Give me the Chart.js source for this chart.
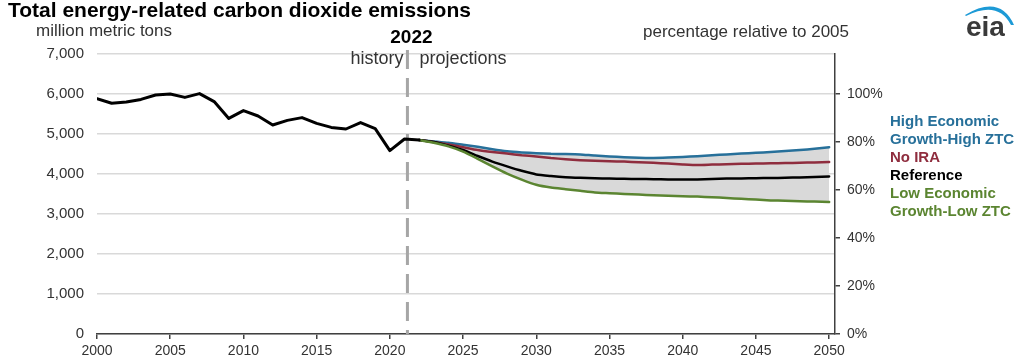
<!DOCTYPE html>
<html>
<head>
<meta charset="utf-8">
<script src="https://cdn.jsdelivr.net/npm/chart.js@4"></script>
<style>
  html, body { margin: 0; padding: 0; background: #fff; }
  #wrap { width: 1024px; height: 360px; position: relative; }
</style>
</head>
<body>
<div id="wrap"><canvas id="chart" width="1024" height="360"></canvas></div>
<script>
// history 2000-2022, million metric tons
const histYears = [2000,2001,2002,2003,2004,2005,2006,2007,2008,2009,2010,2011,2012,2013,2014,2015,2016,2017,2018,2019,2020,2021,2022];
const histValues = [5880,5770,5800,5865,5975,6000,5915,6010,5810,5390,5585,5450,5225,5340,5410,5265,5165,5125,5285,5135,4585,4875,4850];

// projections 2022-2050
const projYears = [2022,2023,2024,2025,2026,2027,2028,2029,2030,2031,2032,2033,2034,2035,2036,2037,2038,2039,2040,2041,2042,2043,2044,2045,2046,2047,2048,2049,2050];
const highValues = [4850,4815,4780,4730,4680,4620,4570,4540,4520,4505,4500,4490,4460,4440,4420,4405,4400,4410,4425,4445,4470,4490,4510,4530,4550,4575,4600,4630,4670];
const noIraValues = [4850,4800,4740,4670,4600,4550,4510,4470,4440,4400,4370,4345,4330,4320,4310,4295,4280,4260,4240,4225,4235,4245,4255,4262,4268,4275,4280,4290,4300];
const refValues = [4850,4800,4710,4600,4450,4310,4190,4080,3990,3950,3920,3905,3895,3885,3880,3875,3870,3865,3865,3865,3875,3885,3890,3895,3900,3905,3915,3925,3940];
const lowValues = [4850,4780,4690,4560,4380,4190,4010,3860,3730,3660,3620,3580,3540,3520,3500,3485,3470,3455,3445,3435,3420,3400,3380,3360,3340,3330,3320,3310,3300];

const xTicks = [2000,2005,2010,2015,2020,2025,2030,2035,2040,2045,2050];
const yTicks = [0,1000,2000,3000,4000,5000,6000,7000];
const pctTicks = [0,20,40,60,80,100];
const base2005 = 6000;
const dividerYear = 2021.2;

const legendLabels = [
  ['High Economic', '#27709a'],
  ['Growth-High ZTC', '#27709a'],
  ['No IRA', '#8f2d3e'],
  ['Reference', '#000000'],
  ['Low Economic', '#5b8531'],
  ['Growth-Low ZTC', '#5b8531']
];

const pts = (xs, ys) => xs.map((x, i) => ({ x: x, y: ys[i] }));
const FONT = "'Liberation Sans', Arial, sans-serif";

// extra text, divider and logo
const decor = {
  id: 'decor',
  beforeDatasetsDraw(chart) {
    const { ctx, scales } = chart;
    const x = scales.x.getPixelForValue(dividerYear);
    ctx.save();
    ctx.strokeStyle = '#a6a6a6';
    ctx.lineWidth = 3;
    ctx.setLineDash([19, 9]);
    ctx.beginPath();
    ctx.moveTo(x, 50);
    ctx.lineTo(x, scales.y.bottom);
    ctx.stroke();
    ctx.restore();
  },
  afterDraw(chart) {
    const { ctx, scales } = chart;
    const x = scales.x.getPixelForValue(dividerYear);
    ctx.save();
    ctx.textBaseline = 'alphabetic';
    ctx.fillStyle = '#000';
    ctx.font = 'bold 21px ' + FONT;
    ctx.textAlign = 'left';
    ctx.fillText('Total energy-related carbon dioxide emissions', 8, 17);
    ctx.fillStyle = '#333';
    ctx.font = '17px ' + FONT;
    ctx.fillText('million metric tons', 36, 36);
    ctx.fillText('percentage relative to 2005', 643, 37);
    ctx.textAlign = 'center';
    ctx.fillStyle = '#000';
    ctx.font = 'bold 19px ' + FONT;
    ctx.fillText('2022', x + 4, 43);
    ctx.fillStyle = '#333';
    ctx.font = '18px ' + FONT;
    ctx.textAlign = 'right';
    ctx.fillText('history', x - 4, 64);
    ctx.textAlign = 'left';
    ctx.fillText('projections', x + 12, 64);

    // legend labels
    ctx.font = 'bold 15px ' + FONT;
    legendLabels.forEach((l, i) => {
      ctx.fillStyle = l[1];
      ctx.textBaseline = 'middle';
      ctx.fillText(l[0], 890, 122 + i * 18);
    });

    // logo
    ctx.textBaseline = 'alphabetic';
    ctx.fillStyle = '#3a3a3a';
    ctx.font = 'bold 28px ' + FONT;
    ctx.fillText('eia', 966, 36);
    ctx.fillStyle = '#1d9ad6';
    ctx.beginPath();
    ctx.moveTo(965, 15);
    ctx.quadraticCurveTo(1000, -6, 1014, 25);
    ctx.lineTo(1011, 25);
    ctx.quadraticCurveTo(998, 0, 966, 16);
    ctx.closePath();
    ctx.fill();
    ctx.restore();
  }
};

new Chart(document.getElementById('chart'), {
  type: 'line',
  data: {
    datasets: [
      { label: 'High Economic Growth-High ZTC', data: pts(projYears, highValues), borderColor: '#27709a', borderWidth: 2.5, fill: 3, backgroundColor: '#d9d9d9', order: 4 },
      { label: 'No IRA', data: pts(projYears, noIraValues), borderColor: '#8f2d3e', borderWidth: 2.5, fill: false, order: 3 },
      { label: 'Reference', data: pts(projYears, refValues), borderColor: '#000000', borderWidth: 2.5, fill: false, order: 2 },
      { label: 'Low Economic Growth-Low ZTC', data: pts(projYears, lowValues), borderColor: '#5b8531', borderWidth: 2.5, fill: false, order: 1 },
      { label: 'History', data: pts(histYears, histValues), borderColor: '#000000', borderWidth: 3, fill: false, tension: 0, order: 0 }
    ]
  },
  options: {
    responsive: false,
    animation: false,
    layout: { padding: { top: 54, left: 0, right: 0, bottom: 0 } },
    elements: { point: { radius: 0 }, line: { tension: 0.2, borderJoinStyle: 'round', borderCapStyle: 'round' } },
    plugins: { legend: { display: false }, tooltip: { enabled: false } },
    scales: {
      x: {
        type: 'linear', min: 2000, max: 2050.4,
        afterBuildTicks: s => { s.ticks = xTicks.map(v => ({ value: v })); },
        afterFit: s => { s.height = 26; },
        border: { display: true, color: '#404040', width: 1.5 },
        grid: { drawOnChartArea: false, drawTicks: true, tickLength: 5, color: '#404040', lineWidth: 1.5 },
        ticks: { color: '#333', font: { family: FONT, size: 14 }, padding: 4, maxRotation: 0, callback: v => String(v) }
      },
      y: {
        position: 'left', min: 0, max: 7000,
        afterBuildTicks: s => { s.ticks = yTicks.map(v => ({ value: v })); },
        afterFit: s => { s.width = 97; },
        border: { display: false },
        grid: { color: '#d9d9d9', lineWidth: 1.5, drawTicks: false },
        ticks: { color: '#333', font: { family: FONT, size: 15 }, padding: 13, callback: v => v.toLocaleString('en-US') }
      },
      y2: {
        position: 'right', min: 0, max: 7000 / base2005 * 100,
        afterBuildTicks: s => { s.ticks = pctTicks.map(v => ({ value: v })); },
        afterFit: s => { s.width = 1024 - 835; },
        border: { display: true, color: '#404040', width: 1.5 },
        grid: { drawOnChartArea: false, drawTicks: true, tickLength: 5, color: '#404040', lineWidth: 1.5 },
        ticks: { color: '#333', font: { family: FONT, size: 14 }, padding: 7, callback: v => v + '%' }
      }
    }
  },
  plugins: [decor]
});
</script>
</body>
</html>
